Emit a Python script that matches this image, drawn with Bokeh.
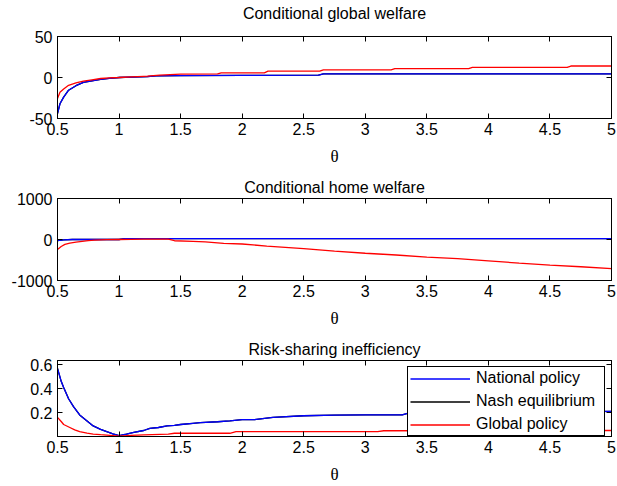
from bokeh.plotting import figure
from bokeh.layouts import column
from bokeh.models import LinearAxis, FixedTicker, Range1d, Legend, LegendItem
from bokeh.embed import file_html
from bokeh.resources import INLINE

# ---------------- data ----------------
x_ticks = [0.5, 1, 1.5, 2, 2.5, 3, 3.5, 4, 4.5, 5]
x_tick_labels = ["0.5", "1", "1.5", "2", "2.5", "3", "3.5", "4", "4.5", "5"]

# Conditional global welfare
g_nat_x = [0.5, 0.52, 0.55, 0.59, 0.65, 0.71, 0.78, 0.85, 0.92, 1.0, 1.1, 1.23, 1.3, 1.5, 2.0, 2.62, 2.66, 3.0, 4.0, 5.0]
g_nat_y = [-44, -32, -24, -15.5, -10, -6, -4, -2.4, -1, 0, 0.5, 1, 2, 2.4, 2.6, 2.8, 4.5, 4.5, 4.5, 4.5]
g_glo_x = [0.5, 0.52, 0.55, 0.59, 0.65, 0.71, 0.78, 0.85, 0.92, 1.0, 1.1, 1.2, 1.23, 1.33, 1.5, 1.8, 1.83, 2.18, 2.21,
           2.63, 2.66, 3.21, 3.24, 3.84, 3.87, 4.64, 4.67, 5.0]
g_glo_y = [-25.6, -18, -14, -9.5, -6.5, -4.5, -2.8, -1.2, -0.5, 0, 0.7, 1.4, 1.6, 2.8, 4.0, 4.3, 5.7, 5.7, 7.7,
           7.7, 9.3, 9.3, 10.8, 10.8, 12.3, 12.3, 14.0, 14.0]
g_nash_x = g_nat_x
g_nash_y = g_nat_y
g_yticks = [-50, 0, 50]
g_ylabels = ["-50", "0", "50"]

# Conditional home welfare
h_nat_x = [0.5, 0.55, 0.62, 1.0, 1.05, 5.0]
h_nat_y = [-25, -10, 0, 0, 22, 22]
h_glo_x = [0.5, 0.53, 0.56, 0.6, 0.65, 0.7, 0.75, 0.8, 0.9, 1.0, 1.1, 1.2, 1.4, 1.45, 1.6, 1.7, 1.85, 2.0,
           2.2, 2.5, 2.75, 3.0, 3.25, 3.5, 3.75, 4.0, 4.25, 4.5, 4.75, 5.0]
h_glo_y = [-245, -170, -120, -90, -65, -45, -28, -15, -5, 0, 5, 8, 8, -30, -45, -60, -95, -110,
           -160, -225, -285, -335, -378, -428, -468, -522, -575, -625, -665, -710]
h_nash_x = h_nat_x
h_nash_y = h_nat_y
h_yticks = [-1000, 0, 1000]
h_ylabels = ["-1000", "0", "1000"]

# Risk-sharing inefficiency
r_nat_x = [0.5, 0.53, 0.55, 0.59, 0.63, 0.68, 0.74, 0.79, 0.85, 0.9, 0.95, 1.0, 1.06, 1.12, 1.2, 1.25, 1.32,
           1.39, 1.45, 1.5, 1.6, 1.66, 1.8, 1.9, 2.0, 2.1, 2.25, 2.5, 2.75, 3.0, 3.3, 3.35, 3.5, 4.0, 4.5, 5.0]
r_nat_y = [0.568, 0.46, 0.408, 0.315, 0.25, 0.18, 0.13, 0.088, 0.06, 0.04, 0.022, 0.008, 0.02, 0.035, 0.05,
           0.067, 0.075, 0.088, 0.093, 0.10, 0.11, 0.115, 0.123, 0.13, 0.14, 0.14, 0.16, 0.173, 0.178, 0.181,
           0.181, 0.195, 0.197, 0.2, 0.205, 0.21]
r_glo_x = [0.5, 0.53, 0.55, 0.6, 0.64, 0.68, 0.74, 0.79, 0.85, 0.9, 1.0, 1.1, 1.2, 1.4, 1.45, 1.9, 1.95,
           3.1, 3.15, 5.0]
r_glo_y = [0.16, 0.125, 0.10, 0.075, 0.055, 0.04, 0.028, 0.02, 0.015, 0.012, 0.003, 0.01, 0.013, 0.019,
           0.027, 0.027, 0.04, 0.04, 0.048, 0.05]
r_nash_x = r_nat_x
r_nash_y = r_nat_y
r_yticks = [0.2, 0.4, 0.6]
r_ylabels = ["0.2", "0.4", "0.6"]

series_names = ["National policy", "Nash equilibrium", "Global policy"]
series_colors = ["#0000FF", "#000000", "#FF0000"]

SANS = "Liberation Sans"
SERIF = "Liberation Serif"


def make_fig(title, height, top, bottom, yrange, yticks, ylabels, title_on_axis=None):
    p = figure(width=617, height=height, x_range=Range1d(0.5, 5), y_range=Range1d(*yrange),
               output_backend="svg", toolbar_location=None,
               min_border_left=57, min_border_right=6, min_border_top=top, min_border_bottom=bottom)
    if title_on_axis is None:
        p.title.text = title
        p.title.align = "center"
        p.title.text_font = SANS
        p.title.text_font_size = "16px"
        p.title.text_font_style = "normal"
        p.title.text_color = "black"
        p.title.standoff = 6
    p.xgrid.visible = False
    p.ygrid.visible = False
    p.outline_line_color = "black"
    p.outline_line_alpha = 1
    p.background_fill_color = "white"
    p.border_fill_color = "white"

    for ax in p.xaxis:
        ax.ticker = FixedTicker(ticks=x_ticks)
        ax.major_label_overrides = {t: l for t, l in zip(x_ticks, x_tick_labels)}
    for ax in p.yaxis:
        ax.ticker = FixedTicker(ticks=yticks)
        ax.major_label_overrides = {t: l for t, l in zip(yticks, ylabels)}
    for ax in list(p.xaxis) + list(p.yaxis):
        ax.major_tick_in = 5
        ax.major_tick_out = 0
        ax.minor_tick_line_color = None
        ax.axis_line_color = "black"
        ax.major_tick_line_color = "black"
        ax.major_label_text_font = SANS
        ax.major_label_text_font_size = "16px"
        ax.major_label_text_color = "black"
    p.yaxis.major_label_standoff = 5
    p.xaxis.major_label_standoff = 4
    p.xaxis.axis_label = "θ"
    p.xaxis.axis_label_text_font = SERIF
    p.xaxis.axis_label_text_font_style = "normal"
    p.xaxis.axis_label_text_font_size = "17px"
    p.xaxis.axis_label_text_color = "black"
    p.xaxis.axis_label_standoff = 9

    # box-style inward ticks on the top and right edges (labels hidden)
    top_ax = LinearAxis(ticker=FixedTicker(ticks=x_ticks), major_label_text_font_size="0px",
                        major_label_text_alpha=0, major_label_text_color=None,
                        major_label_standoff=0, major_tick_in=5, major_tick_out=0,
                        minor_tick_line_color=None, axis_line_color="black", major_tick_line_color="black")
    if title_on_axis is not None:
        # centred subplot title carried by the top axis
        top_ax.axis_label = title
        top_ax.axis_label_text_font = SANS
        top_ax.axis_label_text_font_size = "16px"
        top_ax.axis_label_text_font_style = "normal"
        top_ax.axis_label_text_color = "black"
        top_ax.axis_label_standoff = title_on_axis
    right_ax = LinearAxis(ticker=FixedTicker(ticks=yticks), major_label_text_font_size="0px",
                          major_label_text_alpha=0, major_label_text_color=None,
                          major_label_standoff=0, major_tick_in=5, major_tick_out=0,
                          minor_tick_line_color=None, axis_line_color="black", major_tick_line_color="black")
    p.add_layout(top_ax, "above")
    p.add_layout(right_ax, "right")
    return p


p1 = make_fig("Conditional global welfare", 168, 36, 50, (-50, 50), g_yticks, g_ylabels, title_on_axis=15)
p2 = make_fig("Conditional home welfare", 162, 30, 50, (-1000, 1000), h_yticks, h_ylabels)
p3 = make_fig("Risk-sharing inefficiency", 156, 30, 46, (0, 0.634), r_yticks, r_ylabels)

LW = 1.3
for p, data in [(p1, [(g_nat_x, g_nat_y), (g_nash_x, g_nash_y), (g_glo_x, g_glo_y)]),
                (p2, [(h_nat_x, h_nat_y), (h_nash_x, h_nash_y), (h_glo_x, h_glo_y)])]:
    # draw Nash first so it sits beneath the national-policy curve
    p.line(data[1][0], data[1][1], line_color=series_colors[1], line_width=LW)
    p.line(data[0][0], data[0][1], line_color=series_colors[0], line_width=LW)
    p.line(data[2][0], data[2][1], line_color=series_colors[2], line_width=LW)

r_nash = p3.line(r_nash_x, r_nash_y, line_color=series_colors[1], line_width=LW)
r_nat = p3.line(r_nat_x, r_nat_y, line_color=series_colors[0], line_width=LW)
r_glo = p3.line(r_glo_x, r_glo_y, line_color=series_colors[2], line_width=LW)

legend = Legend(items=[LegendItem(label=series_names[0], renderers=[r_nat]),
                       LegendItem(label=series_names[1], renderers=[r_nash]),
                       LegendItem(label=series_names[2], renderers=[r_glo])],
                location=(350, 0))
legend.border_line_color = "black"
legend.border_line_width = 1
legend.border_line_alpha = 1
legend.background_fill_color = "white"
legend.background_fill_alpha = 1
legend.label_text_font = SANS
legend.label_text_font_size = "16px"
legend.label_text_color = "black"
legend.glyph_width = 60
legend.glyph_height = 17
legend.label_height = 17
legend.label_width = 126
legend.label_standoff = 6
legend.spacing = 5
legend.padding = 2
legend.margin = 0
p3.add_layout(legend)

layout = column(p1, p2, p3, spacing=0)
open("out.html", "w").write(file_html(layout, INLINE))
